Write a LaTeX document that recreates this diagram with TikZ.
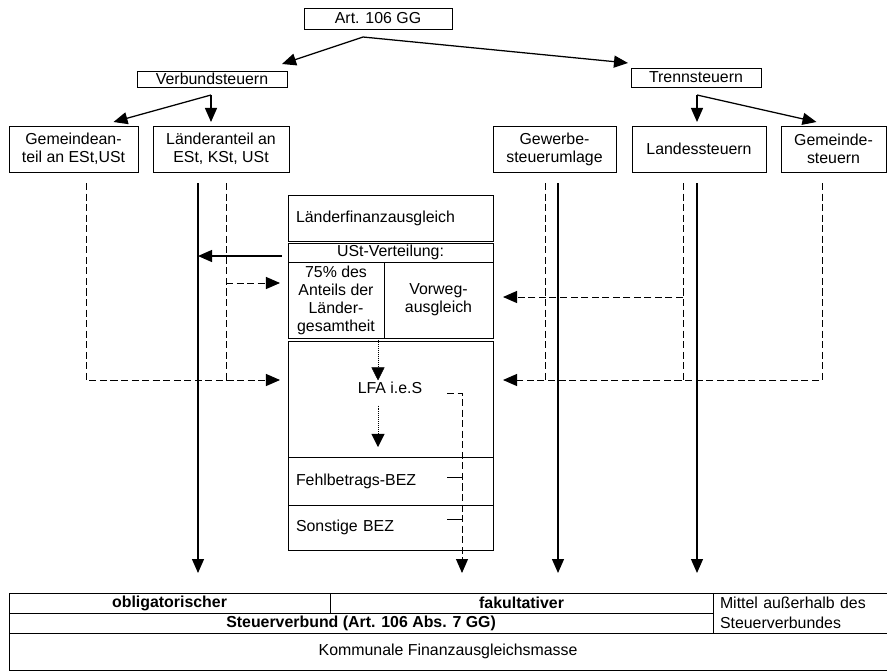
\documentclass[tikz,border=0pt]{standalone}
\usepackage{fontspec}
\setmainfont{Liberation Sans}
\usetikzlibrary{arrows.meta}
\newcommand\fs{\fontsize{11.3}{12.8}\selectfont}

\tikzset{
  box/.style={draw, line width=0.6pt, inner sep=0pt, outer sep=0pt, align=center, font=\fs},
  cell/.style={box, anchor=north west},
  lcell/.style={cell, align=left, inner xsep=0.2cm, text width=4.725cm},
  bcell/.style={cell, font=\fs\bfseries, minimum height=0.5cm},
  arr/.style={-{Triangle[length=0.35cm,width=0.3cm]}, line width=0.9pt},
  dline/.style={line width=0.7pt, dash pattern=on 5pt off 2.5pt},
  dasharr/.style={dline, -{Triangle[length=0.35cm,width=0.3cm]}},
  dotarr/.style={-{Triangle[length=0.33cm,width=0.33cm]}, line width=0.4pt, densely dotted}
}

\begin{document}
\begin{tikzpicture}[x=0.025cm, y=-0.025cm]
  \useasboundingbox (0,0) rectangle (887,671);

  %%% Kopf
  \node[box, minimum width=3.7cm, minimum height=0.525cm] (art) at (378,18.5) {Art. 106 GG};
  \node[box, minimum width=3.75cm, minimum height=0.4cm] (verb) at (212,79) {Verbundsteuern};
  \node[box, minimum width=3.25cm, minimum height=0.475cm] (trenn) at (696,77.5) {Trennsteuern};

  \node[box, minimum width=3.225cm, minimum height=1.15cm] (gemant) at (73.5,149) {Gemeindean-\\teil an ESt,USt};
  \node[box, minimum width=3.4cm, minimum height=1.15cm] (laendant) at (221,149) {Länderanteil an\\ESt, KSt, USt};
  \node[box, minimum width=3.075cm, minimum height=1.15cm] (gewerbe) at (554.5,149) {Gewerbe-\\steuerumlage};
  \node[box, minimum width=3.35cm, minimum height=1.15cm] (landes) at (699,149) {Landessteuern};
  \node[box, minimum width=2.625cm, minimum height=1.15cm] (gemst) at (833.5,149) {Gemeinde-\\steuern};

  %%% Laenderfinanzausgleich
  \node[lcell, minimum height=1.15cm] (lfatitel) at (288,195) {Länderfinanzausgleich};
  \node[cell, minimum width=5.125cm, minimum height=0.475cm] (ustvert) at (288,243) {USt-Verteilung:};
  \node[cell, minimum width=2.4cm, minimum height=1.9cm] (anteil) at (288,262) {75\% des\\Anteils der\\Länder-\\gesamtheit};
  \node[cell, minimum width=2.725cm, minimum height=1.9cm] (vorweg) at (384,262) {Vorweg-\\ausgleich};
  \node[cell, minimum width=5.125cm, minimum height=2.9cm] (lfaies) at (288,341) {};
  \node[font=\fs, inner sep=1pt] (lfatext) at (390,388) {LFA i.e.S};
  \node[lcell, minimum height=1.2cm] (fehl) at (288,457) {Fehlbetrags-BEZ};
  \node[lcell, minimum height=1.125cm] (sonst) at (288,505) {Sonstige BEZ};

  %%% Tabelle
  \node[bcell, minimum width=8.025cm] (oblig) at (9,593) {obligatorischer};
  \node[bcell, minimum width=9.575cm] (fakult) at (330,593) {fakultativer};
  \node[bcell, minimum width=17.6cm] (stverb) at (9,613) {Steuerverbund (Art. 106 Abs. 7 GG)};
  \node[cell, align=left, inner xsep=0.175cm, text width=4.0cm, minimum height=1.0cm,
        font=\fontsize{11.3}{14.2}\selectfont] (mittel) at (713,593) {Mittel außerhalb des\\Steuerverbundes};
  \node[cell, minimum width=21.95cm, minimum height=0.925cm] (komm) at (9,633) {Kommunale Finanzausgleichsmasse};

  %%% Verzweigungen
  \coordinate (artgabel) at (363,37);
  \draw[arr] (artgabel) -- ([shift={(-5,-7)}]verb.north east);
  \draw[arr] (artgabel) -- ([shift={(-3,-5)}]trenn.north west);

  \coordinate (verbgabel) at (211,95);
  \draw[arr] (verbgabel) -- ([shift={(40,-4)}]gemant.north);
  \draw[arr, shorten >=0.1cm] (verbgabel) -- (verbgabel |- laendant.north);

  \coordinate (trenngabel) at (697,95);
  \draw[arr, shorten >=0.1cm] (trenngabel) -- (trenngabel |- landes.north);
  \draw[arr] (trenngabel) -- ([shift={(-17,-4)}]gemst.north);

  %%% Pfeile zur Tabelle
  \coordinate (la) at (198,183);
  \coordinate (gw) at (558,183);
  \coordinate (ls) at (697,183);
  \draw[arr, shorten >=0.5cm] (la) -- (la |- oblig.north);
  \draw[arr, shorten >=0.5cm] (gw) -- (gw |- fakult.north);
  \draw[arr, shorten >=0.5cm] (ls) -- (ls |- fakult.north);

  \coordinate (ustpfeil) at ([shift={(-6,3.5)}]ustvert.west);
  \draw[arr] (ustpfeil) -- (la |- ustpfeil);

  %%% gestrichelte Zufluesse
  \coordinate (ustein) at (280,283);
  \coordinate (lfaein) at (280,380);
  \coordinate (vwein) at (503,297);
  \coordinate (lfaein2) at (503,380);

  \coordinate (ga) at (86,183);
  \draw[dasharr] (ga) |- (lfaein);
  \coordinate (ld) at (226,183);
  \draw[dline] (ld) -- (ld |- lfaein);
  \draw[dasharr] (ld |- ustein) -- (ustein);

  \coordinate (gwd) at (545,183);
  \draw[dline] (gwd) -- (gwd |- lfaein2);
  \coordinate (lsd) at (683,183);
  \draw[dline] (lsd) -- (lsd |- lfaein2);
  \draw[dasharr] (lsd |- vwein) -- (vwein);
  \coordinate (gsd) at (822,183);
  \draw[dasharr] (gsd) |- (lfaein2);

  %%% innerhalb LFA
  \coordinate (dp) at (378,0);
  \draw[dotarr] (dp |- anteil.south) -- (dp |- lfatext.north);
  \draw[dotarr, shorten <=0.25cm, shorten >=0.25cm] (dp |- lfatext.south) -- (dp |- fehl.north);

  \coordinate (lfaaus) at (447,393);
  \coordinate (ausx) at (462,0);
  \draw[dasharr, shorten >=0.5cm] (lfaaus) -| (ausx |- fakult.north);
  \coordinate (fh) at (447,477);
  \coordinate (sh) at (447,519);
  \draw[line width=0.7pt] (fh) -- (fh -| ausx);
  \draw[line width=0.7pt] (sh) -- (sh -| ausx);
\end{tikzpicture}
\end{document}
